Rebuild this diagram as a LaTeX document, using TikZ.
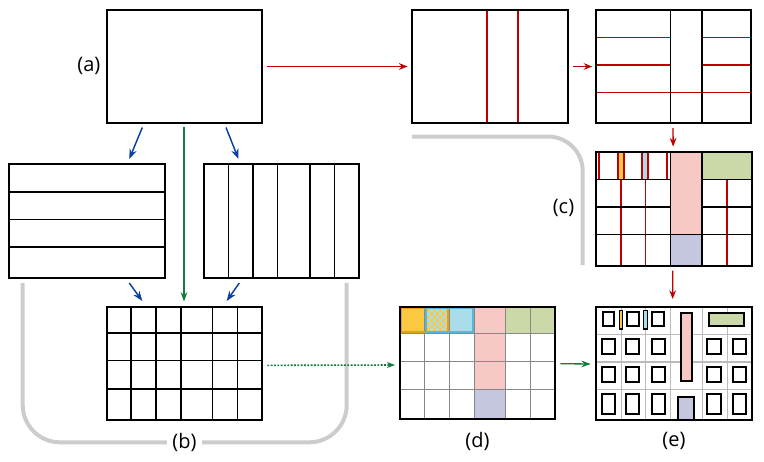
\documentclass[tikz,border=0pt]{standalone}
\usepackage{fontspec}
\setmainfont{Open Sans}
\usetikzlibrary{arrows.meta,fit}
\definecolor{cred}{HTML}{C00000}
\definecolor{cblue}{HTML}{0B3FA0}
\definecolor{cgreen}{HTML}{137A3C}
\definecolor{cgray}{HTML}{CCCCCC}
\definecolor{corange}{HTML}{FBC841}
\definecolor{corangeb}{HTML}{E3A21A}
\definecolor{clblue}{HTML}{A9DDEA}
\definecolor{clblueb}{HTML}{5AB7D6}
\definecolor{cpink}{HTML}{F8C9C4}
\definecolor{clav}{HTML}{C5C6E0}
\definecolor{cgreenf}{HTML}{CBD8A8}
\definecolor{cgridd}{HTML}{888888}
\definecolor{cgride}{HTML}{BBBBBB}
\begin{document}
\begin{tikzpicture}[x=0.75pt,y=-0.75pt,
  frame/.style={draw=black, line width=1.5pt, inner sep=0pt},
  lthin/.style={draw=black, line width=0.9pt},
  lthick/.style={draw=black, line width=1.7pt},
  lmid/.style={draw=black, line width=1.4pt},
  rthin/.style={draw=cred, line width=0.8pt},
  rthick/.style={draw=cred, line width=1.8pt},
  rmid/.style={draw=cred, line width=1.5pt},
  bracket/.style={draw=cgray, line width=3pt},
  lbl/.style={font=\fontsize{15}{18}\selectfont, inner sep=1pt},
  redarr/.style={draw=cred, line width=1pt, -{Stealth[length=6.5pt,width=5pt]}},
  bluearr/.style={draw=cblue, line width=1.1pt, -{Stealth[length=7.5pt,width=5.5pt]}},
  greenarr/.style={draw=cgreen, line width=1pt, -{Stealth[length=7pt,width=5pt]}},
  dotarr/.style={draw=cgreen, line width=1.2pt, dash pattern=on 1.4pt off 1.1pt, -{Stealth[length=6pt,width=4.5pt]}},
  sq/.style={draw=black, line width=1.4pt},
  ggrid/.style={draw=cgridd, line width=0.8pt},
  egrid/.style={draw=cgride, line width=0.8pt}
]
\useasboundingbox (0,0) rectangle (764,461);

% corner coordinates of the boxes
\coordinate (A1) at (107,10);     \coordinate (A2) at (262,123);
\coordinate (M1) at (412,10);     \coordinate (M2) at (568,123);
\coordinate (R1) at (596,10);     \coordinate (R2) at (751.3,123);
\coordinate (C1) at (596,152.3);  \coordinate (C2) at (751.7,265.7);
\coordinate (H1) at (9.3,164.3);  \coordinate (H2) at (165,277.7);
\coordinate (V1) at (203.7,164.3);\coordinate (V2) at (359.3,277.7);
\coordinate (G1) at (106.7,306.7);\coordinate (G2) at (262.3,420);
\coordinate (D1) at (400,306.7);  \coordinate (D2) at (555.3,419.3);
\coordinate (E1) at (595.7,306.7);\coordinate (E2) at (751.7,420);

% ---------- (a)
\node[frame, fit=(A1)(A2)] (A) {};
\node[lbl, anchor=east] (la) at (102,66) {(a)};

% ---------- top middle
\draw[rthin] (487,10) -- (487,123);
\draw[rthin] (518,10) -- (518,123);
\node[frame, fit=(M1)(M2)] (M) {};

% ---------- top right
\draw[rthin] (596,37.3) -- (670.3,37.3) (701.7,37.3) -- (751.3,37.3);
\draw[rthick] (596,65) -- (670.3,65) (701.7,65) -- (751.3,65);
\draw[rthin] (596,92.3) -- (751.3,92.3);
\draw[lthin] (670.3,10) -- (670.3,123);
\draw[lthick] (701.7,10) -- (701.7,123);
\node[frame, fit=(R1)(R2)] (R) {};

% ---------- (c)
\fill[cpink] (670.7,152.3) rectangle (702,234.3);
\fill[clav] (670.7,234.3) rectangle (702,265.7);
\fill[cgreenf] (702,152.3) rectangle (751.7,179.3);
\fill[corange] (617.7,152.3) rectangle (624,179.3);
\fill[clblue] (642,152.3) rectangle (648.3,179.3);
\foreach \x in {599.3,617.7,624,642,648.3,667} \draw[rmid] (\x,152.3) -- (\x,179.3);
\draw[rthick] (620.7,179.3) -- (620.7,265.7);
\draw[rthin] (645.7,179.3) -- (645.7,265.7);
\draw[rthick] (727,179.3) -- (727,265.7);
\draw[lthin] (596,179.3) -- (670.7,179.3) (702,179.3) -- (751.7,179.3);
\draw[lthick] (596,206.7) -- (670.7,206.7) (702,206.7) -- (751.7,206.7);
\draw[lthin] (596,234.3) -- (751.7,234.3);
\draw[lthin] (670.7,152.3) -- (670.7,265.7);
\draw[lthick] (702,152.3) -- (702,265.7);
\node[frame, fit=(C1)(C2)] (C) {};

% bracket (c)
\draw[bracket, rounded corners=26pt] (412,136.5) -- (582.7,136.5) -- (582.7,265);
\node[lbl] (lc) at (563.5,208) {(c)};

% ---------- row 2 left (horizontal strips)
\draw[lthick] (9.3,191.7) -- (165,191.7);
\draw[lthin] (9.3,219.3) -- (165,219.3);
\draw[lthick] (9.3,247) -- (165,247);
\node[frame, fit=(H1)(H2)] (H) {};

% ---------- row 2 right (vertical strips)
\draw[lthin] (228.3,164.3) -- (228.3,277.7);
\draw[lthick] (253.3,164.3) -- (253.3,277.7);
\draw[lthin] (277.7,164.3) -- (277.7,277.7);
\draw[lthick] (310.3,164.3) -- (310.3,277.7);
\draw[lthin] (334.7,164.3) -- (334.7,277.7);
\node[frame, fit=(V1)(V2)] (V) {};

% ---------- grid (b)
\foreach \x in {130.7,155.7,181} \draw[lmid] (\x,306.7) -- (\x,420);
\foreach \x in {212.3,237.3} \draw[lthin] (\x,306.7) -- (\x,420);
\draw[lthick] (106.7,333.3) -- (262.3,333.3);
\draw[lthin] (106.7,360.7) -- (262.3,360.7);
\draw[lthick] (106.7,388.7) -- (262.3,388.7);
\node[frame, fit=(G1)(G2)] (G) {};

% bracket (b)
\draw[bracket, rounded corners=28pt] (22.7,283) -- (22.7,442.3) -- (346.7,442.3) -- (346.7,283);
\node[lbl, fill=white, inner xsep=4pt] (lb) at (184.5,442) {(b)};

% ---------- (d)
\fill[corange] (400,306.7) rectangle (424.3,333.3);
\fill[clblue] (424.3,306.7) rectangle (474.7,333.3);
\foreach \i in {0,...,6} \foreach \j in {0,...,6} {
  \pgfmathtruncatemacro\kk{mod(\i+\j,2)}
  \ifnum\kk=0 \fill[corange] ({426.7+3*\i},{309.3+3.1*\j}) rectangle ++(3,3.1); \fi
}
\fill[cpink] (474.7,306.7) rectangle (505.3,389.3);
\fill[clav] (474.7,389.3) rectangle (505.3,419.3);
\fill[cgreenf] (505.3,306.7) rectangle (555.3,333.3);
\foreach \x in {424.3,449.3,474.7,505.3,530.3} \draw[ggrid] (\x,306.7) -- (\x,419.3);
\foreach \y in {333.3,361.3,389.3} \draw[ggrid] (400,\y) -- (555.3,\y);
\draw[draw=corangeb, line width=1.6pt] (401.3,308) rectangle (448.3,332);
\draw[draw=clblueb, line width=1.6pt] (425.6,308) rectangle (473.4,332);
\node[frame, fit=(D1)(D2)] (D) {};
\node[lbl] (ld) at (477.5,441) {(d)};

% ---------- (e)
\foreach \x in {621.7,645.7,670.7,702.7,727.7} \draw[egrid] (\x,306.7) -- (\x,420);
\foreach \y in {334.3,362,389.7} \draw[egrid] (595.7,\y) -- (751.7,\y);
\foreach \x in {602.7,627.3,652.3} \draw[sq] (\x,312.3) rectangle ++(11.5,13.7);
\draw[draw=black, line width=0.9pt, fill=corange] (619.2,310.3) rectangle (622.3,329);
\draw[draw=black, line width=0.9pt, fill=clblue] (643.5,310.3) rectangle (647.3,329);
\draw[sq, fill=cpink] (680.7,312.7) rectangle (692,381);
\draw[sq, fill=cgreenf] (709.3,312.7) rectangle (744.3,325.7);
\foreach \x in {601.7,626,651.7,707.3,732.7} {
  \draw[sq] (\x,339.3) rectangle ++(13.3,15);
  \draw[sq] (\x,366.7) rectangle ++(13.3,15);
  \draw[sq] (\x,394.3) rectangle ++(13.3,19.7);
}
\draw[sq, fill=clav] (678.3,396.7) rectangle (694.3,420);
\node[frame, fit=(E1)(E2)] (E) {};
\node[lbl] (le) at (674,441) {(e)};

% ---------- connectors
\draw[redarr] ([xshift=3pt]A.east) -- ([xshift=-2.5pt]M.west);
\draw[redarr] ([xshift=3pt]M.east) -- ([xshift=-2pt]R.west);
\draw[redarr] ([xshift=-0.5pt,yshift=-3pt]R.south) -- ([xshift=-0.5pt,yshift=3.5pt]C.north);
\draw[redarr] ([xshift=-0.8pt,yshift=-3pt]C.south) -- ([xshift=-0.8pt,yshift=5pt]E.north);

\coordinate (b1s) at (142.3,127.5);
\coordinate (b1e) at (129.3,159);
\coordinate (b2s) at (226,127.5);
\coordinate (b2e) at (238.5,159);
\coordinate (b3s) at (129.3,283);
\coordinate (b3e) at (142.3,301);
\coordinate (b4s) at (239.3,283);
\coordinate (b4e) at (226.7,301);
\draw[bluearr] (b1s) -- (b1e);
\draw[bluearr] (b2s) -- (b2e);
\draw[bluearr] (b3s) -- (b3e);
\draw[bluearr] (b4s) -- (b4e);

\coordinate (g1s) at (184,127);
\coordinate (g1e) at (184,301.5);
\draw[greenarr] (g1s) -- (g1e);

\draw[dotarr] ([xshift=3pt,yshift=-1.5pt]G.east) -- ([xshift=-3pt,yshift=-1.5pt]D.west);
\draw[greenarr] ([xshift=3pt,yshift=-0.5pt]D.east) -- ([xshift=-3pt,yshift=-0.5pt]E.west);
\end{tikzpicture}
\end{document}
